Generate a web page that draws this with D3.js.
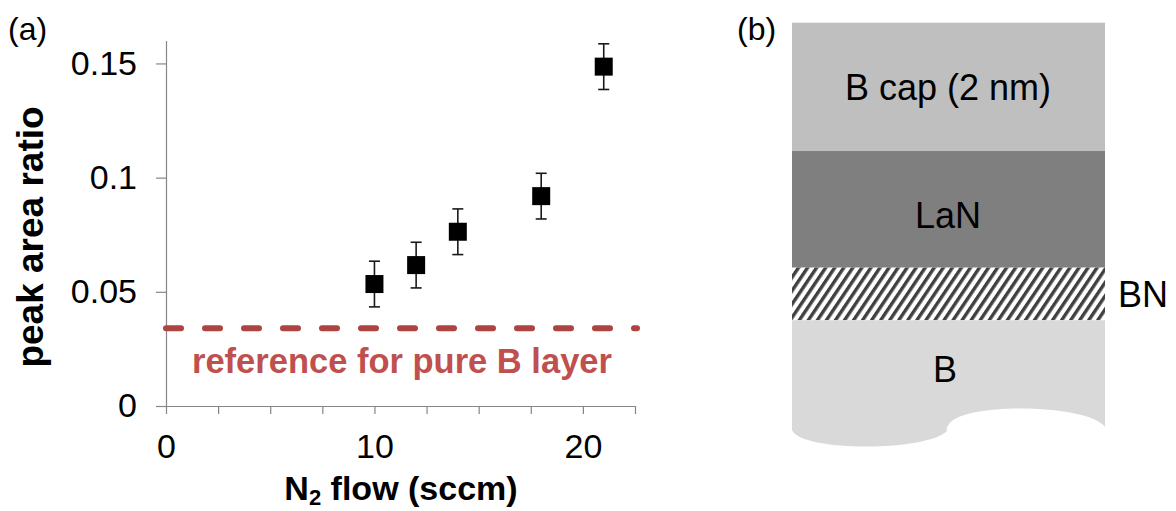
<!DOCTYPE html>
<html>
<head>
<meta charset="utf-8">
<script src="https://cdn.jsdelivr.net/npm/d3@7"></script>
<style>
  html, body { margin: 0; padding: 0; background: #fff; }
  svg { display: block; }
  text { font-family: "Liberation Sans", Arial, sans-serif; }
</style>
</head>
<body>
<svg id="fig" width="1176" height="511"></svg>
<script>
// (a) peak area ratio versus N2 flow
const flow = [10, 12, 14, 18, 21];
const ratio = [0.0534, 0.0617, 0.0763, 0.0919, 0.1486];
const ratioErr = [0.010, 0.010, 0.010, 0.010, 0.010];
const referenceRatio = 0.034;
const xTicks = [0, 2.5, 5, 7.5, 10, 12.5, 15, 17.5, 20, 22.5];
const xTickLabels = [0, 10, 20];
const yTicks = [0, 0.05, 0.1, 0.15];

// (b) layer stack, top to bottom, relative thickness
const layerNames = ["B cap (2 nm)", "LaN", "BN", "B"];
const layerThickness = [2.2, 2.0, 0.9, 1.9];

const svg = d3.select("#fig");

// ---------- panel (a) ----------
const x = d3.scaleLinear().domain([0, 22.5]).range([166, 635]);
const y = d3.scaleLinear().domain([0, 0.16]).range([406, 40.6]);
const axisGrey = "#868686";

const xAxis = svg.append("g")
  .attr("transform", `translate(0,${y(0)})`)
  .call(d3.axisBottom(x).tickValues(xTicks).tickSizeInner(8).tickSizeOuter(0)
    .tickPadding(20)
    .tickFormat(d => xTickLabels.includes(d) ? d3.format("d")(d) : ""));
xAxis.select(".domain").attr("stroke", axisGrey).attr("stroke-width", 1.2);
xAxis.selectAll(".tick line").attr("stroke", axisGrey).attr("stroke-width", 1.2);
xAxis.selectAll(".tick text").attr("fill", "#000").style("font-size", "34px")
  .style("font-family", "'Liberation Sans', Arial, sans-serif");

const yAxis = svg.append("g")
  .attr("transform", `translate(${x(0)},0)`)
  .call(d3.axisLeft(y).tickValues(yTicks).tickSizeInner(10).tickSizeOuter(0)
    .tickPadding(19)
    .tickFormat(d => d === 0 ? "0" : String(+d.toFixed(2))));
yAxis.select(".domain").attr("stroke", axisGrey).attr("stroke-width", 1.2);
yAxis.selectAll(".tick line").attr("stroke", axisGrey).attr("stroke-width", 1.2);
yAxis.selectAll(".tick text").attr("fill", "#000").style("font-size", "34px")
  .style("font-family", "'Liberation Sans', Arial, sans-serif");

// reference level for a pure B layer
svg.append("line")
  .attr("x1", x(0)).attr("x2", x(22.5) + 2)
  .attr("y1", y(referenceRatio)).attr("y2", y(referenceRatio))
  .attr("stroke", "#ad4441").attr("stroke-width", 6)
  .attr("stroke-linecap", "round")
  .attr("stroke-dasharray", "15,24");

svg.append("text")
  .attr("x", 192).attr("y", 373)
  .attr("fill", "#c0504d").attr("font-weight", "bold")
  .style("font-size", "34.5px")
  .text("reference for pure B layer");

// error bars
const pts = flow.map((f, i) => ({ f, r: ratio[i], e: ratioErr[i] }));
const bars = svg.append("g").attr("stroke", "#1a1a1a").attr("stroke-width", 1.6);
bars.selectAll("line.v").data(pts).join("line").attr("class", "v")
  .attr("x1", d => x(d.f)).attr("x2", d => x(d.f))
  .attr("y1", d => y(d.r + d.e)).attr("y2", d => y(d.r - d.e));
["+", "-"].forEach(s => {
  bars.selectAll("line.c" + (s === "+" ? "t" : "b")).data(pts).join("line")
    .attr("class", "c" + (s === "+" ? "t" : "b"))
    .attr("x1", d => x(d.f) - 5.5).attr("x2", d => x(d.f) + 5.5)
    .attr("y1", d => y(s === "+" ? d.r + d.e : d.r - d.e))
    .attr("y2", d => y(s === "+" ? d.r + d.e : d.r - d.e));
});

// square markers
svg.append("g").selectAll("rect").data(pts).join("rect")
  .attr("x", d => x(d.f) - 9).attr("y", d => y(d.r) - 9)
  .attr("width", 18).attr("height", 18).attr("fill", "#000");

// axis titles
svg.append("text")
  .attr("transform", `translate(43,237) rotate(-90)`)
  .attr("text-anchor", "middle").attr("font-weight", "bold")
  .style("font-size", "37px").attr("fill", "#000")
  .text("peak area ratio");

const xt = svg.append("text")
  .attr("x", 401).attr("y", 500)
  .attr("text-anchor", "middle").attr("font-weight", "bold")
  .style("font-size", "34px").attr("fill", "#000");
xt.append("tspan").text("N");
xt.append("tspan").attr("dy", 5).style("font-size", "22px").text("2");
xt.append("tspan").attr("dy", -5).text(" flow (sccm)");

svg.append("text").attr("x", 8).attr("y", 40)
  .style("font-size", "32px").attr("fill", "#000").text("(a)");

// ---------- panel (b) ----------
svg.append("text").attr("x", 737).attr("y", 40)
  .style("font-size", "32px").attr("fill", "#000").text("(b)");

const defs = svg.append("defs");
const hatch = defs.append("pattern")
  .attr("id", "hatch").attr("patternUnits", "userSpaceOnUse")
  .attr("width", 7.5).attr("height", 10)
  .attr("patternTransform", "rotate(34)");
hatch.append("rect").attr("width", 7.5).attr("height", 10).attr("fill", "#fff");
hatch.append("rect").attr("width", 3.4).attr("height", 10).attr("fill", "#404040");

const stackX0 = 792, stackX1 = 1105;
const cum = [0];
layerThickness.forEach(t => cum.push(cum[cum.length - 1] + t));
const ys = d3.scaleLinear().domain([0, cum[cum.length - 1]]).range([22.7, 431]);
const fills = ["#bfbfbf", "#7f7f7f", "url(#hatch)", "#d9d9d9"];

layerNames.forEach((name, i) => {
  const top = ys(cum[i]), bot = ys(cum[i + 1]);
  if (i < layerNames.length - 1) {
    svg.append("rect").attr("x", stackX0).attr("y", top)
      .attr("width", stackX1 - stackX0).attr("height", bot - top)
      .attr("fill", fills[i]);
  } else {
    // bottom substrate with a broken lower edge
    const p = d3.path();
    p.moveTo(stackX0, top);
    p.lineTo(stackX1, top);
    p.lineTo(stackX1, 427);
    p.bezierCurveTo(1090, 405, 975, 402, 952, 421);
    p.bezierCurveTo(945, 427, 946, 433, 948, 430);
    p.bezierCurveTo(930, 452, 800, 452, stackX0, 430);
    p.closePath();
    svg.append("path").attr("d", p.toString()).attr("fill", fills[i]);
  }
});

const labelY = [100, 228, 307, 382];
layerNames.forEach((name, i) => {
  const t = svg.append("text").attr("y", labelY[i])
    .style("font-size", "36px").attr("fill", "#000").text(name);
  if (name === "BN") t.attr("x", 1118);
  else t.attr("x", i === 3 ? 945 : 948).attr("text-anchor", "middle");
});
</script>
</body>
</html>
